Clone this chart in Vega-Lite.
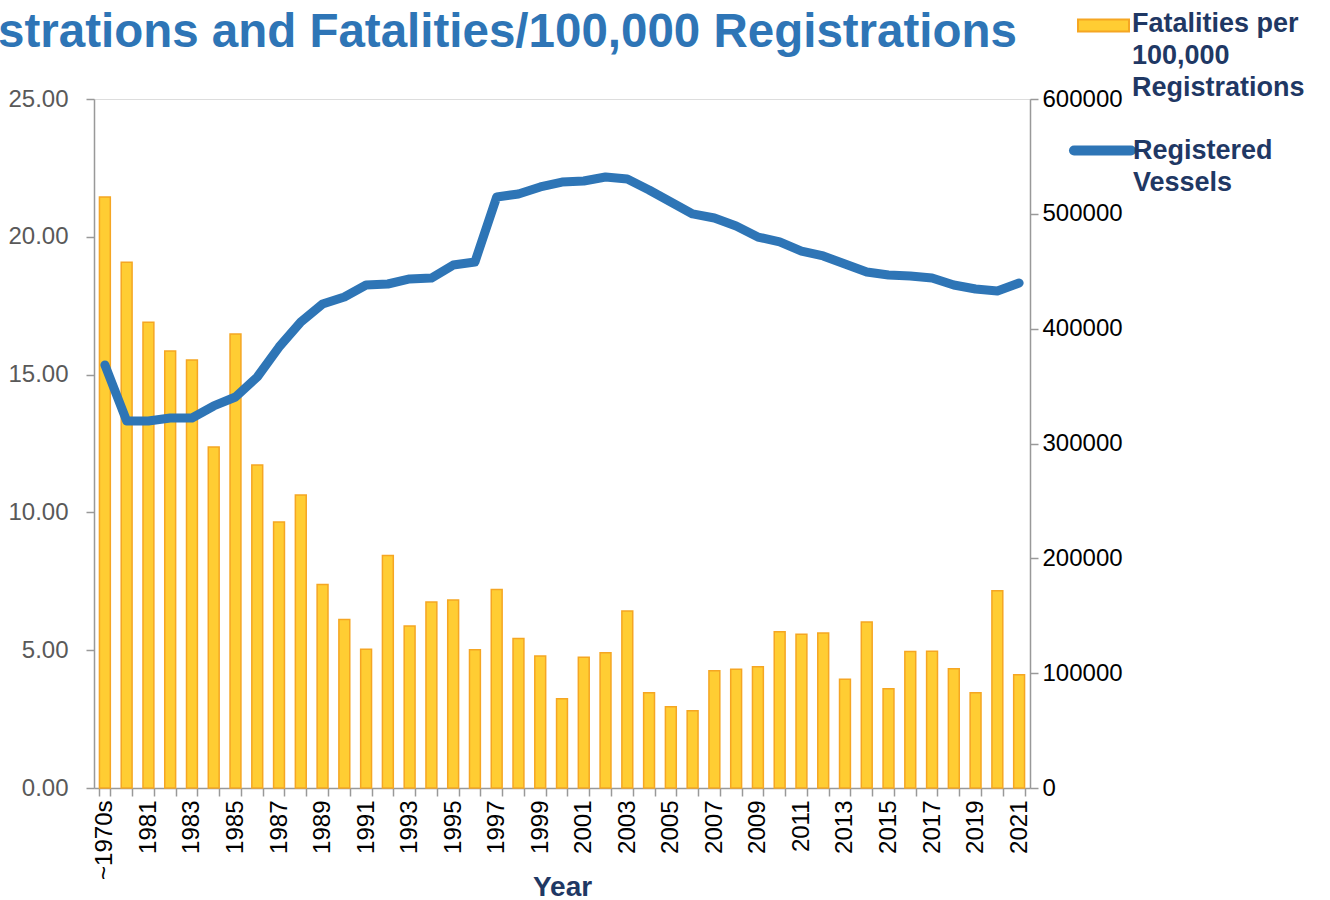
{
  "$schema": "https://vega.github.io/schema/vega-lite/v6.json",
  "width": 936,
  "height": 689,
  "autosize": {"type": "none"},
  "padding": {"left": 94, "top": 99, "right": 300, "bottom": 112},
  "background": "white",
  "title": {
    "text": "strations and Fatalities/100,000 Registrations",
    "anchor": "start",
    "frame": "group",
    "dx": -96,
    "offset": 0,
    "baseline": "alphabetic",
    "dy": 95,
    "font": "Liberation Sans",
    "fontWeight": "bold",
    "fontSize": 47.5,
    "color": "#2E75B6"
  },
  "data": {
    "values": [
      {"year": "~1970s", "fatal": 21.44, "vessels": 368400},
      {"year": "1980", "fatal": 19.08, "vessels": 319600},
      {"year": "1981", "fatal": 16.9, "vessels": 319600},
      {"year": "1982", "fatal": 15.86, "vessels": 322200},
      {"year": "1983", "fatal": 15.53, "vessels": 322200},
      {"year": "1984", "fatal": 12.37, "vessels": 332700},
      {"year": "1985", "fatal": 16.47, "vessels": 340500},
      {"year": "1986", "fatal": 11.72, "vessels": 357900},
      {"year": "1987", "fatal": 9.65, "vessels": 384000},
      {"year": "1988", "fatal": 10.63, "vessels": 405800},
      {"year": "1989", "fatal": 7.38, "vessels": 421500},
      {"year": "1990", "fatal": 6.11, "vessels": 427600},
      {"year": "1991", "fatal": 5.03, "vessels": 438000},
      {"year": "1992", "fatal": 8.44, "vessels": 438900},
      {"year": "1993", "fatal": 5.88, "vessels": 443300},
      {"year": "1994", "fatal": 6.75, "vessels": 444100},
      {"year": "1995", "fatal": 6.82, "vessels": 455400},
      {"year": "1996", "fatal": 5.02, "vessels": 458100},
      {"year": "1997", "fatal": 7.2, "vessels": 514700},
      {"year": "1998", "fatal": 5.42, "vessels": 517300},
      {"year": "1999", "fatal": 4.79, "vessels": 523400},
      {"year": "2000", "fatal": 3.24, "vessels": 527700},
      {"year": "2001", "fatal": 4.74, "vessels": 528600},
      {"year": "2002", "fatal": 4.91, "vessels": 532100},
      {"year": "2003", "fatal": 6.42, "vessels": 530300},
      {"year": "2004", "fatal": 3.46, "vessels": 520800},
      {"year": "2005", "fatal": 2.95, "vessels": 510300},
      {"year": "2006", "fatal": 2.8, "vessels": 499900},
      {"year": "2007", "fatal": 4.25, "vessels": 496400},
      {"year": "2008", "fatal": 4.31, "vessels": 489400},
      {"year": "2009", "fatal": 4.4, "vessels": 479800},
      {"year": "2010", "fatal": 5.67, "vessels": 475500},
      {"year": "2011", "fatal": 5.58, "vessels": 467600},
      {"year": "2012", "fatal": 5.62, "vessels": 463300},
      {"year": "2013", "fatal": 3.95, "vessels": 456300},
      {"year": "2014", "fatal": 6.02, "vessels": 449300},
      {"year": "2015", "fatal": 3.6, "vessels": 446700},
      {"year": "2016", "fatal": 4.95, "vessels": 445900},
      {"year": "2017", "fatal": 4.96, "vessels": 444100},
      {"year": "2018", "fatal": 4.33, "vessels": 438000},
      {"year": "2019", "fatal": 3.46, "vessels": 434500},
      {"year": "2020", "fatal": 7.16, "vessels": 432800},
      {"year": "2021", "fatal": 4.11, "vessels": 439800}
    ]
  },
  "encoding": {
    "x": {
      "field": "year",
      "type": "nominal",
      "sort": null,
      "scale": {"paddingInner": 0.5, "paddingOuter": 0.25},
      "axis": {
        "title": "Year",
        "titleFont": "Liberation Sans",
        "titleFontWeight": "bold",
        "titleFontSize": 28,
        "titleColor": "#1F3864",
        "titlePadding": -6,
        "labelAngle": -90,
        "labelFont": "Liberation Sans",
        "labelFontSize": 24,
        "labelColor": "#000000",
        "labelPadding": 4,
        "labelExpr": "datum.label == '~1970s' || toNumber(datum.label) % 2 == 1 ? datum.label : ''",
        "labelOverlap": false,
        "tickBand": "extent",
        "tickSize": 8,
        "tickColor": "#999999",
        "tickWidth": 1.5,
        "domainColor": "#999999",
        "domainWidth": 1.5,
        "grid": false
      }
    }
  },
  "layer": [
    {
      "mark": {"type": "bar", "stroke": "#F5A623", "strokeWidth": 1.5},
      "encoding": {
        "y": {
          "field": "fatal",
          "type": "quantitative",
          "scale": {"domain": [0, 25]},
          "axis": {
            "orient": "left",
            "title": null,
            "values": [0, 5, 10, 15, 20, 25],
            "format": ".2f",
            "labelFont": "Liberation Sans",
            "labelFontSize": 24,
            "labelColor": "#595959",
            "labelPadding": 18,
            "tickSize": 8,
            "tickColor": "#999999",
            "tickWidth": 1.5,
            "domainColor": "#999999",
            "domainWidth": 1.5,
            "grid": false
          }
        },
        "fill": {
          "datum": "Fatalities per 100,000 Registrations",
          "scale": {"range": ["#FFCD33"]},
          "legend": {
            "orient": "none",
            "legendX": 983,
            "legendY": -100,
            "title": null,
            "symbolType": "M-1,-0.235L1,-0.235L1,0.235L-1,0.235Z",
            "symbolSize": 2601,
            "symbolStrokeColor": "#F5A623",
            "symbolStrokeWidth": 2,
            "symbolFillColor": "#FFCD33",
            "labelFont": "Liberation Sans",
            "labelFontWeight": "bold",
            "labelFontSize": 27,
            "labelColor": "#1F3864",
            "labelLimit": 400,
            "labelOffset": 2,
            "labelBaseline": "top",
            "labelExpr": "['Fatalities per', '100,000', 'Registrations']",
            "encode": {"labels": {"update": {"lineHeight": {"value": 32}, "dy": {"value": -15}}}}
          }
        }
      }
    },
    {
      "mark": {"type": "line", "strokeWidth": 9, "strokeCap": "round", "strokeJoin": "round"},
      "encoding": {
        "y": {
          "field": "vessels",
          "type": "quantitative",
          "scale": {"domain": [0, 600000]},
          "axis": {
            "orient": "right",
            "title": null,
            "values": [0, 100000, 200000, 300000, 400000, 500000, 600000],
            "format": "d",
            "labelFont": "Liberation Sans",
            "labelFontSize": 24,
            "labelColor": "#000000",
            "labelPadding": 4,
            "tickSize": 8,
            "tickColor": "#999999",
            "tickWidth": 1.5,
            "domainColor": "#999999",
            "domainWidth": 1.5,
            "grid": false
          }
        },
        "stroke": {
          "datum": "Registered Vessels",
          "scale": {"range": ["#2E75B6"]},
          "legend": {
            "orient": "none",
            "legendX": 975,
            "legendY": 18,
            "title": null,
            "symbolType": "stroke",
            "symbolSize": 3249,
            "symbolStrokeWidth": 10,
            "labelFont": "Liberation Sans",
            "labelFontWeight": "bold",
            "labelFontSize": 27,
            "labelColor": "#1F3864",
            "labelLimit": 400,
            "labelOffset": -3,
            "labelBaseline": "top",
            "labelExpr": "['Registered', 'Vessels']",
            "encode": {"labels": {"update": {"lineHeight": {"value": 32}, "dy": {"value": -13}}}, "symbols": {"update": {"strokeCap": {"value": "round"}}}}
          }
        }
      }
    }
  ],
  "resolve": {"scale": {"y": "independent"}}
}
